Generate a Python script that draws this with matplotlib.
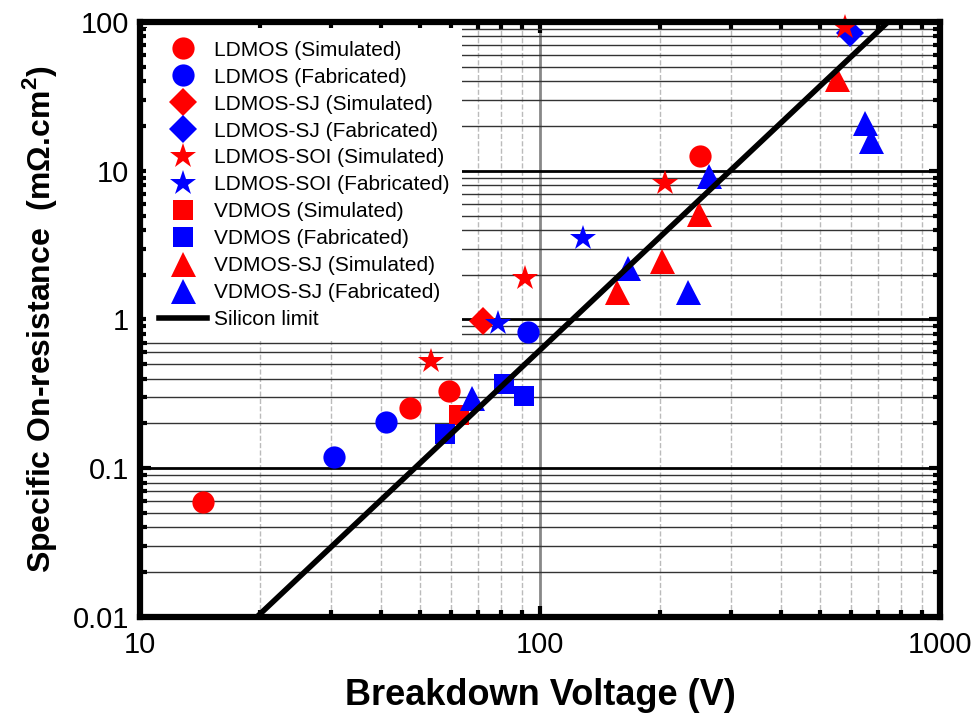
import numpy as np
import matplotlib
matplotlib.use("Agg")
import matplotlib.pyplot as plt

plt.rcParams['font.family'] = ['Liberation Sans', 'DejaVu Sans']
plt.rcParams['mathtext.fontset'] = 'custom'
plt.rcParams['mathtext.rm'] = 'Liberation Sans'
plt.rcParams['mathtext.bf'] = 'Liberation Sans:bold'

# breakdown voltage (V) and specific on-resistance (mOhm.cm2) per series
ldmos_sim_bv = [14.4, 47.3, 59.2, 251]
ldmos_sim_ron = [0.059, 0.256, 0.33, 12.6]
ldmos_fab_bv = [30.5, 41.2, 93.3]
ldmos_fab_ron = [0.119, 0.204, 0.82]
ldmos_sj_sim_bv = [72]
ldmos_sj_sim_ron = [0.98]
ldmos_sj_fab_bv = [596]
ldmos_sj_fab_ron = [84]
soi_sim_bv = [53.4, 91.7, 205, 579]
soi_sim_ron = [0.53, 1.91, 8.3, 93]
soi_fab_bv = [78.5, 128]
soi_fab_ron = [0.94, 3.55]
vdmos_sim_bv = [62.7]
vdmos_sim_ron = [0.227]
vdmos_fab_bv = [57.9, 81.3, 91.2]
vdmos_fab_ron = [0.169, 0.37, 0.304]
vdmos_sj_sim_bv = [156, 202, 250, 553]
vdmos_sj_sim_ron = [1.54, 2.49, 5.14, 41.4]
vdmos_sj_fab_bv = [67.6, 166, 234, 265, 649, 672]
vdmos_sj_fab_ron = [0.295, 2.23, 1.52, 9.25, 21, 15.9]

limit_bv = [19.6, 741]
limit_ron = [0.01, 100]

fig = plt.figure(figsize=(9.76, 7.17), dpi=100)
ax = fig.add_axes([0.1434, 0.1395, 0.8197, 0.8298])

series = [
    (ldmos_sim_bv, ldmos_sim_ron, 'o', 'red', 'LDMOS (Simulated)', 16),
    (ldmos_fab_bv, ldmos_fab_ron, 'o', 'blue', 'LDMOS (Fabricated)', 16),
    (ldmos_sj_sim_bv, ldmos_sj_sim_ron, 'D', 'red', 'LDMOS-SJ (Simulated)', 14),
    (ldmos_sj_fab_bv, ldmos_sj_fab_ron, 'D', 'blue', 'LDMOS-SJ (Fabricated)', 14),
    (soi_sim_bv, soi_sim_ron, '*', 'red', 'LDMOS-SOI (Simulated)', 19),
    (soi_fab_bv, soi_fab_ron, '*', 'blue', 'LDMOS-SOI (Fabricated)', 19),
    (vdmos_sim_bv, vdmos_sim_ron, 's', 'red', 'VDMOS (Simulated)', 14),
    (vdmos_fab_bv, vdmos_fab_ron, 's', 'blue', 'VDMOS (Fabricated)', 14),
    (vdmos_sj_sim_bv, vdmos_sj_sim_ron, '^', 'red', 'VDMOS-SJ (Simulated)', 18),
    (vdmos_sj_fab_bv, vdmos_sj_fab_ron, '^', 'blue', 'VDMOS-SJ (Fabricated)', 18),
]
for bv, ron, mk, c, lab, ms in series:
    ax.plot(bv, ron, linestyle='none', marker=mk, color=c, markersize=ms,
            markeredgewidth=0, label=lab, zorder=3, clip_on=False)

ax.plot(limit_bv, limit_ron, color='black', lw=4, label='Silicon limit', zorder=4)

ax.set_xscale('log')
ax.set_yscale('log')
ax.set_xlim(10, 1000)
ax.set_ylim(0.01, 100)

ax.set_xticks([10, 100, 1000])
ax.set_xticklabels(['10', '100', '1000'])
ax.set_yticks([0.01, 0.1, 1, 10, 100])
ax.set_yticklabels(['0.01', '0.1', '1', '10', '100'])

ax.grid(True, axis='y', which='major', color='black', lw=2, zorder=1)
ax.grid(True, axis='y', which='minor', color='#333333', lw=1, zorder=1)
ax.grid(True, axis='x', which='major', color='#888888', lw=2, zorder=1)
ax.grid(True, axis='x', which='minor', color='#bbbbbb', lw=1, ls='--', zorder=1)

ax.tick_params(which='both', direction='in', top=True, right=True,
               labelsize=21)
ax.tick_params(axis='x', pad=10)
ax.tick_params(axis='y', pad=8)
ax.tick_params(which='major', length=8, width=3)
ax.tick_params(which='minor', length=5, width=3)
for sp in ax.spines.values():
    sp.set_linewidth(4.5)
    sp.set_zorder(5)

ax.set_xlabel('Breakdown Voltage (V)', fontsize=26, fontweight='bold', labelpad=14)
ax.set_ylabel('Specific On-resistance  (m\u03a9.cm$^{\\mathbf{2}}$)', fontsize=23,
              fontweight='bold', labelpad=10)

leg = ax.legend(loc='upper left', fontsize=15, frameon=True, fancybox=False,
                edgecolor='none', facecolor='white', framealpha=1,
                borderaxespad=0.3, labelspacing=0.38, handletextpad=0.31,
                handlelength=2.34, borderpad=0.6)
leg.set_zorder(2.5)

fig.savefig('out.png', dpi=100)
